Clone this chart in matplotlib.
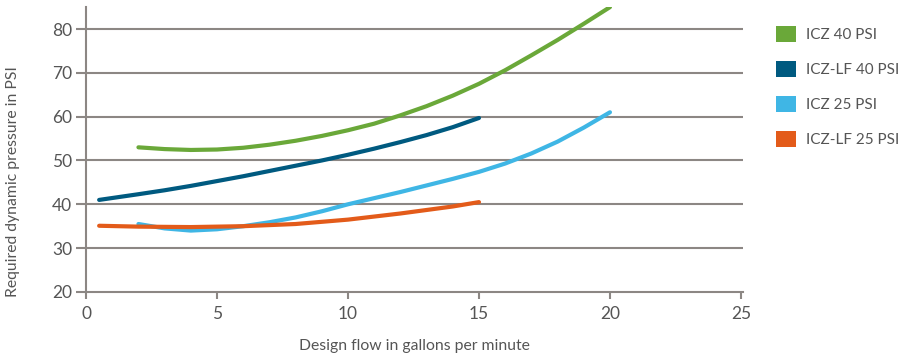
import matplotlib
matplotlib.use("Agg")
import matplotlib.pyplot as plt
from matplotlib.patches import Patch

plt.rcParams['font.family'] = ['Lato', 'DejaVu Sans']

# values
icz40_x = [2, 3, 4, 5, 6, 7, 8, 9, 10, 11, 12, 13, 14, 15, 16, 17, 18, 19, 20]
icz40_y = [53.0, 52.6, 52.4, 52.5, 52.9, 53.6, 54.5, 55.6, 56.9, 58.4, 60.3, 62.4, 64.8, 67.5, 70.6, 74.0, 77.5, 81.2, 85.0]

iczlf40_x = [0.5, 2, 3, 4, 5, 6, 7, 8, 9, 10, 11, 12, 13, 14, 15]
iczlf40_y = [41.0, 42.3, 43.2, 44.2, 45.3, 46.4, 47.6, 48.8, 50.0, 51.3, 52.7, 54.2, 55.8, 57.6, 59.7]

icz25_x = [2, 3, 4, 5, 6, 7, 8, 9, 10, 11, 12, 13, 14, 15, 16, 17, 18, 19, 20]
icz25_y = [35.5, 34.5, 34.0, 34.3, 35.0, 35.9, 37.0, 38.4, 40.0, 41.4, 42.8, 44.3, 45.8, 47.4, 49.3, 51.6, 54.3, 57.5, 61.0]

iczlf25_x = [0.5, 2, 4, 6, 8, 10, 12, 14, 15]
iczlf25_y = [35.1, 34.9, 34.8, 35.0, 35.5, 36.5, 37.9, 39.5, 40.5]

labels = ['ICZ 40 PSI', 'ICZ-LF 40 PSI', 'ICZ 25 PSI', 'ICZ-LF 25 PSI']
colors = ['#6aa839', '#005a80', '#3fb6e5', '#e35b1a']

x_ticks = [0, 5, 10, 15, 20, 25]
y_ticks = [20, 30, 40, 50, 60, 70, 80]

grey = '#8c8784'
text_grey = '#555555'

fig = plt.figure(figsize=(9, 3.56), dpi=100)
ax = fig.add_axes([0.0956, 0.180, 0.730, 0.800])

series = [(icz40_x, icz40_y), (iczlf40_x, iczlf40_y), (icz25_x, icz25_y), (iczlf25_x, iczlf25_y)]
for i in range(4):
    xs, ys = series[i]
    ax.plot(xs, ys, color=colors[i], lw=3, solid_capstyle='round', zorder=3)

ax.set_xlim(0, 25.08)
ax.set_ylim(20, 85)
ax.set_xticks(x_ticks)
ax.set_yticks(y_ticks)

for v in y_ticks[1:]:
    ax.axhline(v, color=grey, lw=1.5, zorder=1)

for s in ['top', 'right']:
    ax.spines[s].set_visible(False)
for s in ['left', 'bottom']:
    ax.spines[s].set_color(grey)
    ax.spines[s].set_linewidth(1.5)

ax.tick_params(axis='y', length=7, width=1.5, color=grey, labelsize=12.5, labelcolor=text_grey, pad=3)
ax.tick_params(axis='x', length=5, width=1.5, color=grey, labelsize=12.5, labelcolor=text_grey, pad=5)

ax.set_xlabel('Design flow in gallons per minute', fontsize=11.3, color=text_grey)
ax.xaxis.set_label_coords(0.5, -0.165)
ax.set_ylabel('Required dynamic pressure in PSI', fontsize=11.3, color=text_grey)
ax.yaxis.set_label_coords(-0.1, 0.386)

handles = [Patch(facecolor=c, edgecolor='none') for c in colors]
fig.legend(handles, labels, loc='upper left', bbox_to_anchor=(0.862, 0.928),
           frameon=False, fontsize=11, labelcolor=text_grey,
           handlelength=1.3, handleheight=1.3, labelspacing=1.2,
           handletextpad=0.65, borderpad=0, borderaxespad=0)

fig.savefig('out.png', dpi=100)
